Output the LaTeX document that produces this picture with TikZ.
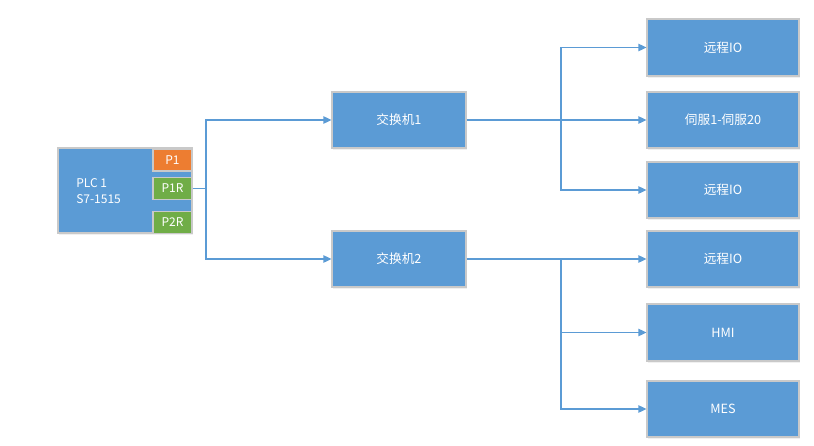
\documentclass[tikz,border=0pt]{standalone}
\usepackage{fontspec}
\setmainfont{Noto Sans CJK SC}
\usetikzlibrary{arrows.meta,shadows}
\definecolor{boxblue}{HTML}{5B9BD5}
\definecolor{boxline}{HTML}{C9C9C9}
\definecolor{portorange}{HTML}{ED7D31}
\definecolor{portgreen}{HTML}{70AD47}
\begin{document}
\begin{tikzpicture}[x=0.75pt,y=-0.75pt,
  box/.style={draw=boxline, line width=0.8pt, fill=boxblue, text=white, inner sep=0pt,
    font=\fontsize{9.5}{11}\selectfont,
    drop shadow={opacity=0.12, shadow xshift=1pt, shadow yshift=-1.5pt}},
  port/.style={draw=boxline, line width=0.8pt, text=white, inner sep=0pt,
    minimum width={39*0.75pt}, minimum height={22*0.75pt},
    font=\fontsize{9}{11}\selectfont},
  wire/.style={draw=boxblue, line width=1pt},
  arr/.style={wire, -{Triangle[length=6pt,width=5.5pt]}}
]
\useasboundingbox (0,0) rectangle (814,446);
% PLC
\node[box, minimum width={134*0.75pt}, minimum height={85*0.75pt}] (plc) at (125,190.5) {};
\node[anchor=west, text=white, font=\fontsize{9}{11}\selectfont, align=left, inner sep=0pt] (plctext) at (76,191) {PLC 1\\[1pt]S7-1515};
\node[port, fill=portorange] (p1) at (172.5,160) {P1};
\node[port, fill=portgreen] (p1r) at (172.5,188.5) {P1R};
\node[port, fill=portgreen] (p2r) at (172.5,222.5) {P2R};
% switches
\node[box, minimum width={134*0.75pt}, minimum height={56*0.75pt}] (s1) at (399,120) {交换机1};
\node[box, minimum width={134*0.75pt}, minimum height={56*0.75pt}] (s2) at (399,259) {交换机2};
% right boxes
\node[box, minimum width={152*0.75pt}, minimum height={57*0.75pt}] (r1) at (723,47.5) {远程IO};
\node[box, minimum width={152*0.75pt}, minimum height={56*0.75pt}] (r2) at (723,120) {伺服1-伺服20};
\node[box, minimum width={152*0.75pt}, minimum height={56*0.75pt}] (r3) at (723,190) {远程IO};
\node[box, minimum width={152*0.75pt}, minimum height={56*0.75pt}] (r4) at (723,259) {远程IO};
\node[box, minimum width={152*0.75pt}, minimum height={57*0.75pt}] (r5) at (723,332.5) {HMI};
\node[box, minimum width={152*0.75pt}, minimum height={56*0.75pt}] (r6) at (723,409) {MES};
% junctions
\coordinate (j1) at (206,188.5);
\coordinate (j2) at (561,120);
\coordinate (j3) at (561,259);
% connectors
\draw[wire] (p1r.east) -- (j1);
\draw[arr] (j1) |- (s1.west);
\draw[arr] (j1) |- (s2.west);
\draw[arr] (s1.east) -- (r2.west);
\draw[arr] (j2) |- (r1.west);
\draw[arr] (j2) |- (r3.west);
\draw[arr] (s2.east) -- (r4.west);
\draw[arr] (j3) |- (r5.west);
\draw[arr] (j3) |- (r6.west);
\end{tikzpicture}
\end{document}
